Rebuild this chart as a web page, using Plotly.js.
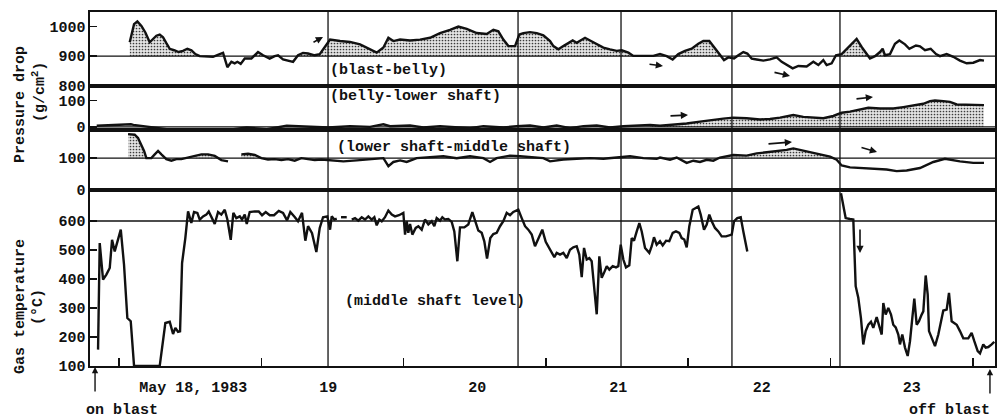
<!DOCTYPE html>
<html><head><meta charset="utf-8">
<script src="https://cdn.plot.ly/plotly-3.0.1.min.js"></script>
<style>html,body{margin:0;padding:0;background:#fff}#chart{width:1001px;height:419px}</style>
</head><body><div id="chart"></div>
<script>
// x = hours after May 18, 1983 00:00
// blast-belly pressure drop (g/cm2)
const bbPoints = [[1.80,947],[2.08,975],[2.53,1008],[3.09,1017],[3.77,1002],[4.44,980],[5.17,947],[5.73,958],[6.30,969],[6.86,973],[7.42,964],[7.98,944],[8.55,925],[9.28,920],[10.06,914],[10.79,918],[11.52,925],[12.20,920],[12.87,907],[13.61,900],[14.73,900],[15.85,898],[16.98,907],[17.54,911],[18.27,863],[18.95,881],[19.51,876],[19.96,881],[20.52,874],[21.20,892],[22.32,892],[23.44,914],[24.29,903],[25.41,892],[26.25,900],[26.82,903],[27.66,889],[28.50,885],[29.35,881],[30.19,903],[31.03,911],[31.88,909],[33.00,903],[33.85,907],[34.69,931],[35.25,947],[35.59,956],[37.28,951],[38.96,948],[40.65,940],[42.34,923],[43.46,912],[44.59,929],[45.43,962],[46.27,951],[47.40,956],[49.08,953],[50.77,956],[52.46,962],[54.14,978],[55.83,989],[57.23,1000],[58.64,992],[60.33,978],[62.01,975],[63.14,989],[63.98,984],[64.82,956],[65.67,934],[66.79,934],[67.52,973],[68.20,978],[69.32,981],[70.45,978],[71.57,970],[72.70,951],[73.26,934],[74.10,923],[74.94,934],[75.79,945],[76.52,953],[77.19,945],[78.04,956],[78.60,962],[79.44,953],[80.57,940],[81.69,929],[82.81,923],[83.94,918],[84.78,920],[85.91,912],[86.75,901],[88.44,901],[90.12,901],[91.24,907],[92.37,900],[93.38,889],[94.34,907],[95.46,918],[96.59,925],[97.71,942],[98.55,951],[99.56,951],[100.52,925],[101.36,903],[102.04,887],[102.77,896],[103.73,892],[104.46,903],[105.30,914],[105.97,909],[106.71,892],[107.55,889],[108.68,885],[109.80,889],[110.92,896],[111.77,881],[112.61,870],[113.62,859],[114.58,867],[115.98,865],[117.11,881],[117.95,870],[118.79,887],[119.35,870],[120.20,876],[120.93,903],[121.88,907],[123.01,931],[124.41,958],[125.26,931],[126.66,892],[127.51,900],[128.35,914],[128.80,925],[129.19,903],[130.04,907],[130.88,942],[131.61,953],[132.57,940],[133.30,925],[134.42,936],[135.10,933],[135.94,920],[136.90,925],[137.80,907],[138.47,900],[139.60,907],[140.72,898],[141.84,885],[142.97,876],[144.09,878],[145.22,887],[145.89,885]];
const bbShade = [[1.80,13.61],[22.32,24.29],[30.19,86.75],[93.38,101.36],[121.88,126.66],[127.51,129.19]];
const bbBase = 900;

// belly-lower shaft pressure drop
const blPoints = [[-3.77,4],[2.0,10],[2.42,7.5],[4.67,0],[8.04,-9],[11.41,-10],[15.91,-9],[19.28,-9],[21.53,-2.5],[24.91,-9],[28.28,4],[31.65,0],[35.3,-2.5],[38.96,2.5],[42.34,0],[44.59,10],[45.71,2.5],[49.08,5],[51.33,-2.5],[54.14,2.5],[56.95,-2.5],[59.20,-5],[61.45,2.5],[64.82,-2.5],[67.07,2.5],[69.32,5],[71.57,-2.5],[73.82,5],[76.07,-5],[78.32,2.5],[80.57,5],[82.81,-2.5],[85.06,2.5],[87.31,5],[89.56,7.5],[91.24,4],[93.49,7.5],[95.74,12.6],[97.99,20],[100.24,28],[101.92,31.5],[103.61,35],[105.86,33],[108.11,28],[109.80,30],[111.49,35],[113.73,45],[115.42,38],[117.11,35],[118.79,33],[120.48,41.5],[121.88,54],[123.29,58],[124.97,67],[126.38,73],[128.35,70],[130.60,70],[132.29,75.5],[133.97,83],[135.66,88],[136.79,98],[137.63,100.6],[139.04,98],[140.16,95.6],[141.29,85.5],[142.97,85.5],[144.09,83],[145.22,85.5],[145.89,83]];
const blShade = [[89.56,145.89]];
const blBase = 0;

// lower shaft-middle shaft pressure drop
const lmPoints = [[1.52,176],[2.64,174],[3.20,164],[3.77,143],[4.22,123],[4.61,100],[5.45,100],[6.02,112],[6.58,123],[7.14,112],[7.98,97],[8.83,92],[9.67,97],[10.51,97],[11.64,102],[12.76,107],[13.89,112],[15.01,112],[16.14,107],[17.26,94],[18.38,90],[19.5,null],[20.63,112],[21.76,114],[22.88,110],[24.00,100],[25.13,96],[26.25,97],[27.38,94],[28.50,97],[29.63,92],[30.75,100],[31.88,97],[33.00,94],[34.13,96],[35.25,94],[37.84,90],[40.09,93],[42.34,96],[44.59,100],[45.43,75],[46.27,88],[47.40,93],[48.52,88],[50.21,100],[52.46,103],[54.70,106],[56.95,100],[59.20,106],[61.45,100],[62.58,88],[63.70,100],[65.95,108],[67.64,106],[69.32,103],[71.57,100],[72.70,90],[74.94,96],[77.19,98],[79.44,100],[81.69,98],[83.94,103],[86.19,106],[88.44,100],[90.69,98],[91.25,102],[92.93,95],[94.06,102],[95.74,85],[96.87,92],[97.99,88],[99.12,95],[100.24,92],[101.36,102],[103.61,110],[105.86,108],[107.55,115],[109.24,118.5],[111.48,123],[112.61,126],[113.73,131],[114.86,126],[116.54,121],[118.23,112],[119.92,105],[121.04,95],[121.89,77],[123.29,71],[124.98,69],[127.23,67],[129.47,64],[131.16,59],[132.85,61],[135.10,69],[137.35,88],[139.31,98],[140.16,95],[141.84,90],[144.09,85],[145.89,85]];
const lmShade = [[1.52,4.61],[12.76,16.14],[20.63,22.88],[103.61,120.5]];
const lmBase = 100;

// gas temperature, middle shaft level (deg C)
const gtPoints = [[-3.54,156],[-3.26,524],[-2.70,398],[-2.14,415],[-1.57,438],[-1.18,535],[-0.73,495],[-0.17,541],[0.29,570],[0.84,449],[1.40,265],[1.97,254],[2.53,100],[6.86,100],[7.81,248],[8.55,252],[9.11,210],[9.50,231],[9.95,217],[10.29,219],[10.63,455],[11.18,541],[11.64,633],[12.19,593],[12.65,631],[13.21,628],[13.61,605],[14.17,616],[14.72,622],[15.13,633],[15.69,610],[16.14,590],[16.70,631],[17.25,622],[17.83,639],[18.27,605],[18.84,535],[19.28,628],[19.78,610],[20.36,616],[20.74,605],[21.20,622],[21.54,590],[22.04,631],[22.89,633],[23.56,633],[24.12,620],[24.74,631],[25.42,620],[26.14,620],[26.94,635],[27.66,628],[28.34,602],[28.89,631],[29.63,614],[30.19,599],[30.86,628],[31.42,532],[31.88,582],[32.55,558],[33.28,493],[33.85,576],[34.41,613],[35.13,616],[35.59,570],[35.87,616],[36.31,605],[36.72,608],[37.1,null],[37.44,613],[38.40,613],[38.8,null],[39.25,605],[39.80,610],[40.36,601],[40.93,613],[41.49,605],[42.05,616],[42.62,605],[43.06,613],[43.46,585],[43.90,605],[44.31,599],[44.86,613],[45.42,636],[46.00,622],[46.55,616],[47.22,620],[47.95,628],[48.24,553],[48.52,599],[48.79,559],[49.08,590],[49.47,553],[50.04,576],[50.48,582],[51.05,570],[51.61,605],[52.17,588],[52.74,599],[53.18,582],[53.58,610],[54.14,601],[54.53,613],[54.98,605],[55.54,607],[56.11,597],[56.55,564],[57.06,461],[57.51,578],[58.24,578],[58.91,588],[59.59,631],[60.16,599],[60.60,567],[61.17,559],[61.61,530],[62.07,470],[62.62,541],[63.13,555],[63.70,559],[64.26,582],[64.82,599],[65.39,628],[65.95,620],[66.50,631],[67.35,639],[67.92,610],[68.48,582],[69.03,570],[69.61,553],[70.16,513],[70.72,541],[71.39,570],[71.97,528],[72.52,509],[73.42,475],[73.82,490],[74.38,484],[74.94,490],[75.51,472],[76.07,501],[76.62,509],[77.19,513],[77.63,484],[78.04,406],[78.43,507],[78.88,467],[79.32,472],[79.72,461],[80.11,381],[80.57,278],[81.01,478],[81.41,404],[81.80,421],[82.26,444],[82.70,432],[83.27,444],[83.82,440],[84.21,444],[84.62,518],[85.06,467],[85.51,440],[86.07,447],[86.47,541],[86.86,532],[87.32,564],[87.76,593],[88.16,564],[88.72,507],[89.44,490],[89.85,513],[90.23,544],[90.69,518],[91.24,530],[91.70,516],[92.26,532],[92.81,530],[93.39,559],[93.94,564],[94.50,559],[94.90,541],[95.34,536],[95.75,509],[96.19,582],[96.76,639],[97.71,650],[98.11,622],[98.67,570],[99.12,588],[99.56,622],[99.97,599],[100.52,576],[101.08,564],[101.65,547],[102.38,547],[103.34,553],[103.73,599],[104.28,610],[104.86,613],[105.30,564],[105.97,495],[110,null],[121.77,696],[122.16,656],[122.56,610],[123.29,607],[123.85,605],[124.25,375],[124.69,335],[125.14,265],[125.53,174],[125.94,220],[126.38,242],[126.83,252],[127.22,231],[127.79,268],[128.18,242],[128.64,208],[128.91,317],[129.31,277],[129.75,300],[130.21,277],[130.59,242],[131.00,233],[131.44,208],[131.72,174],[132.11,208],[132.57,163],[133.02,134],[133.41,185],[133.80,265],[134.14,332],[134.54,242],[134.93,254],[135.38,277],[135.66,288],[136.06,412],[136.40,346],[136.62,220],[137.07,197],[137.63,168],[138.19,208],[139.03,291],[139.60,294],[139.99,352],[140.44,254],[141.29,242],[141.84,220],[142.40,195],[143.24,195],[143.81,214],[144.26,185],[144.83,151],[145.22,143],[145.77,174],[146.18,163],[146.62,165],[147.19,174],[147.63,183]];
const gtBase = 600;

const eventHours = [35.25, 67.3, 84.67, 103.38, 121.6];
const dayLabelHours = [12.5, 35.3, 60.4, 84.2, 108.4, 133.7];
const dayLabels = ['May 18, 1983', '19', '20', '21', '22', '23'];
const onBlastHour = -4.05;
const offBlastHour = 146.9;

const FONT = 'Liberation Mono, Courier New, monospace';
const INK = '#111';

function lineTrace(points, xa, ya) {
  return {type: 'scatter', mode: 'lines', x: points.map(d => d[0]), y: points.map(d => d[1]),
    xaxis: xa, yaxis: ya, line: {color: INK, width: 2.4}, connectgaps: false,
    hoverinfo: 'skip', showlegend: false};
}
function shadeTraces(points, ranges, base, xa, ya) {
  return ranges.map(([a, b]) => {
    const sel = points.filter(d => d[1] !== null && d[0] >= a && d[0] <= b);
    const x = sel.map(d => d[0]);
    const y = sel.map(d => Math.max(d[1], base));
    x.push(sel[sel.length - 1][0], sel[0][0]);
    y.push(base, base);
    return {type: 'scatter', mode: 'lines', x, y, xaxis: xa, yaxis: ya, fill: 'toself',
      line: {width: 0, color: 'rgba(0,0,0,0)'}, fillcolor: '#c8c8c8',
      fillpattern: {shape: '.', size: 3, solidity: 0.25, fgcolor: '#3a3a3a', bgcolor: '#e4e4e4'},
      hoverinfo: 'skip', showlegend: false};
  });
}

const traces = [
  ...shadeTraces(bbPoints, bbShade, bbBase, 'x4', 'y4'),
  ...shadeTraces(blPoints, blShade, blBase, 'x3', 'y3'),
  ...shadeTraces(lmPoints, lmShade, lmBase, 'x2', 'y2'),
  lineTrace(bbPoints, 'x4', 'y4'),
  lineTrace(blPoints, 'x3', 'y3'),
  lineTrace(lmPoints, 'x2', 'y2'),
  lineTrace(gtPoints, 'x', 'y')
];

const tickfont = {family: FONT, size: 15, color: INK, weight: 'bold'};
const boxLine = {showline: true, mirror: true, linecolor: INK, linewidth: 1.6, showgrid: false, zeroline: false};
function upperX(anchor) {
  return Object.assign({matches: 'x', anchor: anchor, showticklabels: false, ticks: ''}, boxLine);
}
function yax(domain, range, vals) {
  return Object.assign({domain, range, tickmode: 'array', tickvals: vals, ticks: 'inside', ticklen: 7,
    tickwidth: 1.5, tickcolor: INK, tickfont}, boxLine);
}

const baseShapes = [[bbBase, 'y4'], [blBase, 'y3'], [lmBase, 'y2'], [gtBase, 'y']].map(([v, ya]) => ({
  type: 'line', xref: 'paper', yref: ya, x0: 0, x1: 1, y0: v, y1: v, line: {color: INK, width: 1.3}}));
const eventShapes = eventHours.map(h => ({
  type: 'line', xref: 'x', yref: 'paper', x0: h, x1: h, y0: 0, y1: 1, line: {color: INK, width: 1.3}}));

// pixel helpers for annotation placement
const px = p => (p - 90) / 905;
const py = p => (366 - p) / 354;
const txt = (text, x, y, xanchor, extra) => Object.assign({text, xref: 'paper', yref: 'paper', x: px(x), y: py(y),
  xanchor: xanchor || 'left', yanchor: 'middle', showarrow: false,
  font: {family: FONT, size: 15, color: INK, weight: 'bold'}}, extra || {});
const arr = (hx, hy, ax, ay) => ({text: '', xref: 'paper', yref: 'paper', x: px(hx), y: py(hy), ax, ay,
  showarrow: true, arrowhead: 2, arrowsize: 0.9, arrowwidth: 1.6, arrowcolor: INK});

const annotations = [
  txt('(blast-belly)', 328, 70),
  txt('(belly-lower shaft)', 328, 97),
  txt('(lower shaft-middle shaft)', 335, 147),
  txt('(middle shaft level)', 343, 301),
  txt('on blast', 84, 410),
  txt('off blast', 992, 410, 'right'),
  txt('Pressure drop', 21, 105, 'center', {textangle: -90}),
  txt('(g/cm<sup>2</sup>)', 39, 92, 'center', {textangle: -90}),
  txt('Gas temperature', 20, 307, 'center', {textangle: -90}),
  txt('(°C)', 38, 307, 'center', {textangle: -90}),
  arr(323, 37, -11, 6),
  arr(663, 66, -15, -2),
  arr(790, 76, -17, -4),
  arr(688, 115, -19, 1),
  arr(873, 97, -18, 2),
  arr(792, 142, -25, 2),
  arr(877, 152, -17, -5),
  arr(860, 253, 0, -25),
  {text: '', xref: 'x', yref: 'paper', x: onBlastHour, y: py(367), ax: 0, ay: 26, showarrow: true,
    arrowhead: 2, arrowsize: 0.9, arrowwidth: 1.4, arrowcolor: INK},
  {text: '', xref: 'x', yref: 'paper', x: offBlastHour, y: py(369), ax: 0, ay: 26, showarrow: true,
    arrowhead: 2, arrowsize: 0.9, arrowwidth: 1.4, arrowcolor: INK}
];

const layout = {
  width: 1001, height: 419,
  margin: {l: 90, r: 6, t: 12, b: 53},
  paper_bgcolor: '#fff', plot_bgcolor: '#fff',
  showlegend: false,
  xaxis: Object.assign({domain: [0, 1], range: [-4.9, 147.75], anchor: 'y', tickmode: 'array',
    tickvals: dayLabelHours, ticktext: dayLabels, ticks: '', tickfont, ticklabelstandoff: 6,
    minor: {tick0: 0, dtick: 24, ticks: 'inside', ticklen: 8, tickwidth: 1.5, tickcolor: INK, showgrid: false}}, boxLine),
  xaxis2: upperX('y2'),
  xaxis3: upperX('y3'),
  xaxis4: upperX('y4'),
  yaxis: yax([0, 0.4972], [99.5, 707], [100, 200, 300, 400, 500, 600]),
  yaxis2: yax([0.4972, 0.6667], [-0.5, 189], [0, 100]),
  yaxis3: yax([0.6667, 0.7910], [-12, 156], [0, 100]),
  yaxis4: yax([0.7910, 1], [799.5, 1049], [800, 900, 1000]),
  shapes: [...baseShapes, ...eventShapes],
  annotations
};

Plotly.newPlot('chart', traces, layout, {staticPlot: true, displayModeBar: false});
</script>
</body></html>
